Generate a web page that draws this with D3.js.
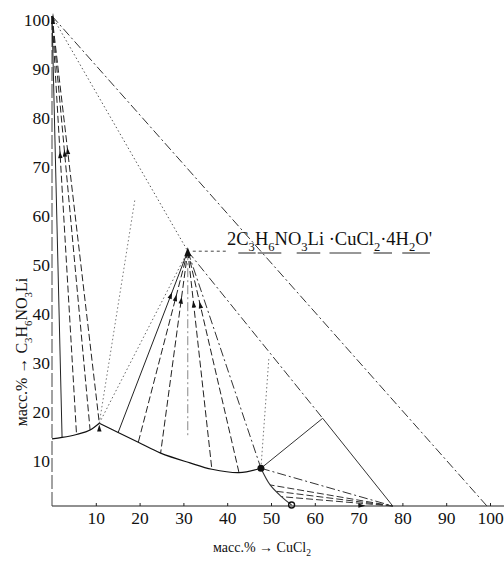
<!DOCTYPE html>
<html>
<head>
<meta charset="utf-8">
<script src="https://cdn.jsdelivr.net/npm/d3@7"></script>
<style>
  body { margin: 0; background: #fff; }
  text, tspan { font-family: "Liberation Serif", "Times New Roman", "DejaVu Serif", serif; fill: #111; }
</style>
</head>
<body>
<svg></svg>
<script>
// tick labels on both axes
const tickValues = [10, 20, 30, 40, 50, 60, 70, 80, 90, 100];

// solid phases
const solidA = [0, 100];        // C3H6NO3Li
const compoundD = [31, 52];     // 2C3H6NO3Li·CuCl2·4H2O
const dihydrate = [77.8, 0];    // CuCl2·2H2O

// invariant points
const eut1 = [10.8, 16.9];
const eut2 = [47.7, 7.7];
const pointP = [61.8, 17.9];
const binaryCu = [54.7, 0.2];

// solubility branches
const branch1 = [[0, 13.7], [2.3, 14.0], [5.6, 14.6], [8.7, 15.5], [10.8, 16.9]];
const branch2 = [[10.8, 16.9], [15.1, 15.0], [19.7, 13.0], [24.8, 10.8], [31.5, 8.8], [36.5, 7.5], [42.7, 6.8], [47.7, 7.7]];
const branch3 = [[47.7, 7.7], [49.8, 4.3], [52.4, 1.9], [54.7, 0.2]];

// liquid ends of the tie lines
const tiesA = [[2.3, 14.0], [5.6, 14.6], [8.7, 15.5], [10.8, 16.9]];
const tiesD = [[10.8, 16.9], [15.1, 15.0], [19.7, 13.0], [24.8, 10.8], [31, 14], [36.5, 7.5], [42.7, 6.8], [47.7, 7.7]];
const tiesB = [[47.7, 7.7], [49.8, 4.3], [51.2, 3.0], [52.4, 1.9]];

const width = 504;
const height = 563;
const serif = "Liberation Serif";

const svg = d3.select("svg").attr("width", width).attr("height", height);

const x = d3.scaleLinear([0, 100], [52, 490]);
const y = d3.scaleLinear([0, 100], [506, 16]);

const dash = "7,3";
const dashDot = "9,3,2,3";
const dot = "1.5,2.5";

function seg(a, b, style, color, w) {
  svg.append("line")
    .attr("x1", x(a[0])).attr("y1", y(a[1]))
    .attr("x2", x(b[0])).attr("y2", y(b[1]))
    .attr("stroke", color || "#222")
    .attr("stroke-width", w || 1)
    .attr("stroke-dasharray", style);
}

// small arrowhead on a line, pointing to "to"
function arrow(from, to, t) {
  const x0 = x(from[0]), y0 = y(from[1]);
  const x1 = x(to[0]), y1 = y(to[1]);
  const px = x0 + (x1 - x0) * t, py = y0 + (y1 - y0) * t;
  const ang = Math.atan2(y1 - y0, x1 - x0) * 180 / Math.PI;
  svg.append("path")
    .attr("d", "M3,0 L-4,-2.2 L-4,2.2 Z")
    .attr("transform", `translate(${px},${py}) rotate(${ang})`)
    .attr("fill", "#111");
}

// text with chemical subscripts
function formula(sel, parts, size) {
  const shift = size * 0.3;
  let low = false;
  parts.forEach(([s, sub]) => {
    const t = sel.append("tspan").text(s);
    if (low) t.attr("dy", -shift);
    low = false;
    if (sub) {
      sel.append("tspan").attr("font-size", size * 0.68).attr("dy", shift).text(sub);
      low = true;
    }
  });
}

// axes
svg.append("g")
  .attr("transform", `translate(0,${y(0)})`)
  .call(d3.axisBottom(x).tickValues(tickValues).tickSize(-3).tickPadding(6))
  .call(g => g.select(".domain").remove())
  .call(g => g.attr("font-family", serif).attr("font-size", 17.5))
  .call(g => g.selectAll("line").attr("stroke", "#222"))
  .call(g => g.selectAll("text").attr("font-family", serif));

svg.append("g")
  .attr("transform", `translate(${x(0)},0)`)
  .call(d3.axisLeft(y).tickValues(tickValues).tickSize(0).tickPadding(2))
  .call(g => g.select(".domain").remove())
  .call(g => g.attr("font-family", serif).attr("font-size", 17.5))
  .call(g => g.selectAll("text").attr("dy", "0.55em").attr("font-family", serif));

svg.append("line")
  .attr("x1", x(0)).attr("y1", y(0)).attr("x2", 504).attr("y2", y(0))
  .attr("stroke", "#222").attr("stroke-width", 1.1);
svg.append("line")
  .attr("x1", x(0)).attr("y1", y(0)).attr("x2", x(0)).attr("y2", y(100) - 2)
  .attr("stroke", "#444").attr("stroke-width", 1).attr("stroke-dasharray", "14,3");

// triangle edge and construction lines
seg(solidA, [99.3, 0], dashDot, "#333");
seg(solidA, compoundD, dot, "#555");
seg(compoundD, pointP, dashDot, "#333");
seg(pointP, dihydrate, null, "#333");
seg(eut2, pointP, null, "#333");
seg(eut2, dihydrate, dashDot, "#333");
seg(eut1, [18.9, 62.4], dot, "#777");
seg(eut2, [49.5, 30], dot, "#777");

// tie lines from C3H6NO3Li
const aStyles = [null, dash, dash, dash];
tiesA.forEach((p, i) => {
  seg(solidA, p, aStyles[i], "#222");
  if (i > 0) arrow(p, solidA, 0.67);
});

// tie lines from the compound
const dStyles = [dot, null, dash, dash, dashDot, dash, dash, dashDot];
const dColors = ["#666", "#222", "#222", "#222", "#888", "#222", "#222", "#333"];
tiesD.forEach((p, i) => {
  seg(compoundD, p, dStyles[i], dColors[i]);
  if (i > 0 && i < 7 && i !== 4) arrow(p, compoundD, 0.76);
});

// tie lines from CuCl2·2H2O
tiesB.forEach((p, i) => {
  if (i > 0) seg(dihydrate, p, dash, "#333");
});
arrow(binaryCu, dihydrate, 0.7);

// solubility curves
const line = d3.line().x(d => x(d[0])).y(d => y(d[1]));
svg.append("path").datum(branch1)
  .attr("d", line.curve(d3.curveMonotoneX))
  .attr("fill", "none").attr("stroke", "#111").attr("stroke-width", 1.2);
svg.append("path").datum(branch2)
  .attr("d", line.curve(d3.curveCatmullRom))
  .attr("fill", "none").attr("stroke", "#111").attr("stroke-width", 1.2);
svg.append("path").datum(branch3)
  .attr("d", line.curve(d3.curveCatmullRom))
  .attr("fill", "none").attr("stroke", "#333").attr("stroke-width", 1.1);

// points
svg.append("circle")
  .attr("cx", x(eut2[0])).attr("cy", y(eut2[1])).attr("r", 3.5)
  .attr("fill", "#111");
svg.append("circle")
  .attr("cx", x(binaryCu[0])).attr("cy", y(binaryCu[1])).attr("r", 3)
  .attr("fill", "none").attr("stroke", "#111").attr("stroke-width", 1.3);
arrow([eut1[0], eut1[1] - 6], eut1, 0.85);
svg.append("path")
  .attr("d", "M0,-6 L-3.5,3 L3.5,3 Z")
  .attr("transform", `translate(${x(compoundD[0])},${y(compoundD[1]) + 2})`)
  .attr("fill", "#111");
svg.append("path")
  .attr("d", "M0,-3 L-2,8 L2,8 Z")
  .attr("transform", `translate(${x(solidA[0]) + 1},${y(solidA[1])})`)
  .attr("fill", "#111");

// compound label
svg.append("line")
  .attr("x1", x(compoundD[0]) + 5).attr("y1", y(compoundD[1]))
  .attr("x2", 227).attr("y2", y(compoundD[1]))
  .attr("stroke", "#444").attr("stroke-dasharray", "3,3");

const lbl = svg.append("text").attr("x", 227).attr("y", 245)
  .attr("font-family", serif).attr("font-size", 18.5);
formula(lbl, [["2C", "3"], ["H", "6"], ["NO", "3"], ["Li ·CuCl", "2"], ["·4H", "2"], ["O'", null]], 18.5);

const lblBox = lbl.node().getBBox();
[[0.055, 0.14], [0.15, 0.265], [0.34, 0.455], [0.5, 0.655], [0.715, 0.805], [0.855, 0.99]].forEach(([a, b]) => {
  svg.append("line")
    .attr("x1", lblBox.x + lblBox.width * a).attr("x2", lblBox.x + lblBox.width * b)
    .attr("y1", 253).attr("y2", 253)
    .attr("stroke", "#333").attr("stroke-width", 1.1);
});

// axis titles
const yt = svg.append("text")
  .attr("transform", "translate(27,352) rotate(-90)")
  .attr("text-anchor", "middle")
  .attr("font-family", serif).attr("font-size", 16);
formula(yt, [["масс.% → C", "3"], ["H", "6"], ["NO", "3"], ["Li", null]], 16);

const xt = svg.append("text")
  .attr("x", 262).attr("y", 552)
  .attr("text-anchor", "middle")
  .attr("font-family", serif).attr("font-size", 14);
formula(xt, [["масс.% → CuCl", "2"]], 14);
</script>
</body>
</html>
